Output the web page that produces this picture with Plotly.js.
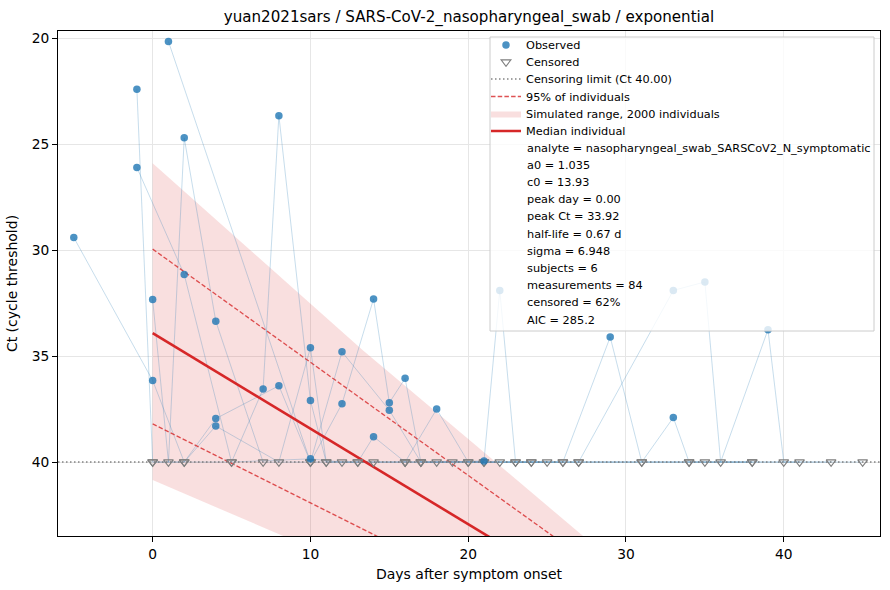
<!DOCTYPE html>
<html><head><meta charset="utf-8">
<script src="https://cdn.plot.ly/plotly-3.0.1.min.js"></script>
<style>html,body{margin:0;padding:0;background:#fff}#chart{width:890px;height:590px}</style>
</head><body><div id="chart"></div>
<script>
// ---- data ----
const censorLimit = 40;
const xRange = [-6.0, 46.1];
const yRange = [43.49, 19.656];
const xTicks = [0, 10, 20, 30, 40];
const yTicks = [20, 25, 30, 35, 40];

// subjects: day, Ct (40 where censored), censored flag
const s1Days = [-5, 0, 2, 4, 8, 10, 12, 14, 15, 16, 17, 21, 23, 25];
const s1Ct   = [29.4, 36.15, 40, 37.95, 36.4, 40, 37.25, 32.3, 37.2, 36.05, 40, 40, 40, 40];
const s1Cens = [0, 0, 1, 0, 0, 1, 0, 0, 0, 0, 1, 1, 1, 1];

const s2Days = [-1, 0, 2, 4, 8, 10, 11, 13, 14, 16, 18, 20, 22, 24, 26, 29, 31, 33, 34, 38];
const s2Ct   = [22.4, 40, 40, 38.3, 40, 34.6, 40, 40, 38.8, 40, 37.5, 40, 40, 40, 40, 34.1, 40, 37.9, 40, 40];
const s2Cens = [0, 1, 1, 0, 1, 0, 1, 1, 0, 1, 0, 1, 1, 1, 1, 0, 1, 0, 1, 1];

const s3Days = [-1, 2, 5, 10, 12, 16, 18, 21, 22, 23, 27, 33, 35, 36, 39, 40, 45];
const s3Ct   = [26.1, 31.15, 40, 39.85, 40, 40, 40, 39.95, 31.9, 40, 40, 31.9, 31.5, 40, 33.75, 40, 40];
const s3Cens = [0, 0, 1, 0, 1, 1, 1, 0, 0, 1, 1, 0, 0, 1, 0, 1, 1];

const s4Days = [0, 1, 2, 4, 7, 10, 12, 15, 17, 21, 24, 31, 34, 38];
const s4Ct   = [32.33, 40, 24.7, 33.35, 40, 40, 34.8, 37.55, 40, 40, 40, 40, 40, 40];
const s4Cens = [0, 1, 0, 0, 1, 1, 0, 0, 1, 1, 1, 1, 1, 1];

const s5Days = [1, 10, 13, 16, 19, 27, 35, 43];
const s5Ct   = [20.15, 40, 40, 40, 40, 40, 40, 40];
const s5Cens = [0, 1, 1, 1, 1, 1, 1, 1];

const s6Days = [0, 5, 7, 8, 10, 11, 14, 17, 20, 26, 41];
const s6Ct   = [40, 40, 36.55, 23.65, 37.1, 40, 40, 40, 40, 40, 40];
const s6Cens = [1, 1, 0, 0, 0, 1, 1, 1, 1, 1, 1];

// model curves
const medianDays = [0, 30];
const medianCt   = [33.92, 47.44];
const upperDays  = [0, 30];
const upperCt    = [29.95, 45.97];
const lowerDays  = [0, 30];
const lowerCt    = [38.2, 49.39];
const shadeDays  = [0, 8.24, 13.32, 20.08, 27.27, 30];
const shadeUpper = [25.9, 31.34, 34.72, 38.96, 43.49, 45.2];
const shadeLower = [40.85, 43.49, 45.1, 47.3, 49.6, 50.5];

const titleText = 'yuan2021sars / SARS-CoV-2_nasopharyngeal_swab / exponential';
const xTitle = 'Days after symptom onset';
const yTitle = 'Ct (cycle threshold)';
const legendLabels = ['Observed', 'Censored', 'Censoring limit (Ct 40.00)', '95% of individuals',
                      'Simulated range, 2000 individuals', 'Median individual'];
const paramLines = ['analyte = nasopharyngeal_swab_SARSCoV2_N_symptomatic', 'a0 = 1.035', 'c0 = 13.93',
  'peak day = 0.00', 'peak Ct = 33.92', 'half-life = 0.67 d', 'sigma = 6.948', 'subjects = 6',
  'measurements = 84', 'censored = 62%', 'AIC = 285.2'];

// ---- layout helpers ----
const W = 890, H = 590, ML = 58, MR = 10, MT = 31, MB = 54;
const PW = W - ML - MR, PH = H - MT - MB;
const px2x = px => (px - ML) / PW;
const py2y = py => (H - MB - py) / PH;
const FONT = 'DejaVu Sans, Liberation Sans, sans-serif';
const LEGEND_SIZE = 11.3;

const subjects = [
  [s1Days, s1Ct, s1Cens], [s2Days, s2Ct, s2Cens], [s3Days, s3Ct, s3Cens],
  [s4Days, s4Ct, s4Cens], [s5Days, s5Ct, s5Cens], [s6Days, s6Ct, s6Cens]
];

const traces = [];
// shaded simulated range
traces.push({
  x: shadeDays.concat(shadeDays.slice().reverse()),
  y: shadeUpper.concat(shadeLower.slice().reverse()),
  type: 'scatter', mode: 'lines', fill: 'toself',
  fillcolor: 'rgba(214,39,40,0.15)', line: {width: 0, color: 'rgba(214,39,40,0)'},
  name: legendLabels[4], legend: 'legend5', hoverinfo: 'skip'
});
// subject trajectories
subjects.forEach(s => {
  traces.push({
    x: s[0], y: s[1], type: 'scatter', mode: 'lines',
    line: {color: 'rgba(31,119,180,0.25)', width: 1}, showlegend: false, hoverinfo: 'skip'
  });
});
// censoring limit
traces.push({
  x: xRange, y: [censorLimit, censorLimit], type: 'scatter', mode: 'lines',
  line: {color: 'rgba(110,110,110,0.85)', width: 1.5, dash: '1.5px,2.5px'},
  name: legendLabels[2], legend: 'legend3'
});
// 95% lines
traces.push({
  x: upperDays, y: upperCt, type: 'scatter', mode: 'lines',
  line: {color: 'rgba(214,39,40,0.8)', width: 1.3, dash: '4.5px,2.2px'},
  name: legendLabels[3], legend: 'legend4'
});
traces.push({
  x: lowerDays, y: lowerCt, type: 'scatter', mode: 'lines',
  line: {color: 'rgba(214,39,40,0.8)', width: 1.3, dash: '4.5px,2.2px'},
  showlegend: false
});
// median
traces.push({
  x: medianDays, y: medianCt, type: 'scatter', mode: 'lines',
  line: {color: '#d62728', width: 2.6},
  name: legendLabels[5], legend: 'legend6'
});
// censored & observed points
const cx = [], cy = [], ox = [], oy = [];
subjects.forEach(s => {
  s[0].forEach((d, i) => {
    if (s[2][i]) { cx.push(d); cy.push(s[1][i]); } else { ox.push(d); oy.push(s[1][i]); }
  });
});
traces.push({
  x: cx, y: cy, type: 'scatter', mode: 'markers',
  marker: {symbol: 'triangle-down-open', size: 8.5, color: '#7f7f7f', line: {width: 1.1, color: '#7f7f7f'}},
  name: legendLabels[1], legend: 'legend2'
});
traces.push({
  x: ox, y: oy, type: 'scatter', mode: 'markers',
  marker: {symbol: 'circle', size: 7.5, color: 'rgba(31,119,180,0.8)', line: {width: 0}},
  name: legendLabels[0], legend: 'legend'
});

// legend rows (pixel centres)
const rowY = [45, 62, 79, 96.5, 113.5, 131];
const paramY0 = 148, paramStep = 17.2;

const layout = {
  width: W, height: H,
  margin: {l: ML, r: MR, t: MT, b: MB},
  paper_bgcolor: '#fff', plot_bgcolor: '#fff',
  font: {family: FONT, size: 14, color: '#000'},
  title: {text: titleText, font: {family: FONT, size: 15.1, color: '#000'},
          x: 0.5, xref: 'paper', xanchor: 'center', y: 1 - 17 / H, yref: 'container', yanchor: 'middle'},
  xaxis: {
    range: xRange, tickvals: xTicks, ticktext: xTicks.map(String),
    showgrid: true, gridcolor: '#e6e6e6', gridwidth: 1, zeroline: false,
    showline: true, linecolor: '#000', linewidth: 1, mirror: true,
    ticks: 'outside', ticklen: 5, tickwidth: 1, tickcolor: '#000',
    tickfont: {family: FONT, size: 13.8, color: '#000'},
    title: {text: xTitle, font: {family: FONT, size: 14, color: '#000'}, standoff: 8}
  },
  yaxis: {
    range: yRange, tickvals: yTicks, ticktext: yTicks.map(String),
    showgrid: true, gridcolor: '#e6e6e6', gridwidth: 1, zeroline: false,
    showline: true, linecolor: '#000', linewidth: 1, mirror: true,
    ticks: 'outside', ticklen: 5, tickwidth: 1, tickcolor: '#000',
    tickfont: {family: FONT, size: 13.8, color: '#000'},
    title: {text: yTitle, font: {family: FONT, size: 14, color: '#000'}, standoff: 10}
  },
  shapes: [{
    type: 'rect', xref: 'paper', yref: 'paper', layer: 'above',
    x0: px2x(490), x1: px2x(874), y0: py2y(331), y1: py2y(37),
    fillcolor: 'rgba(255,255,255,0.8)', line: {color: '#cccccc', width: 1}
  }],
  annotations: paramLines.map((t, i) => ({
    text: t, xref: 'paper', yref: 'paper', x: px2x(524.5), y: py2y(paramY0 + i * paramStep),
    xanchor: 'left', yanchor: 'middle', showarrow: false,
    font: {family: FONT, size: LEGEND_SIZE, color: '#000'}
  })),
  showlegend: true
};
['legend', 'legend2', 'legend3', 'legend4', 'legend5', 'legend6'].forEach((k, i) => {
  layout[k] = {
    x: px2x(486), y: py2y(rowY[i]), xanchor: 'left', yanchor: 'middle',
    bgcolor: 'rgba(0,0,0,0)', borderwidth: 0,
    font: {family: FONT, size: LEGEND_SIZE, color: '#000'}
  };
});

Plotly.newPlot('chart', traces, layout, {displayModeBar: false, staticPlot: true});
</script>
</body></html>
